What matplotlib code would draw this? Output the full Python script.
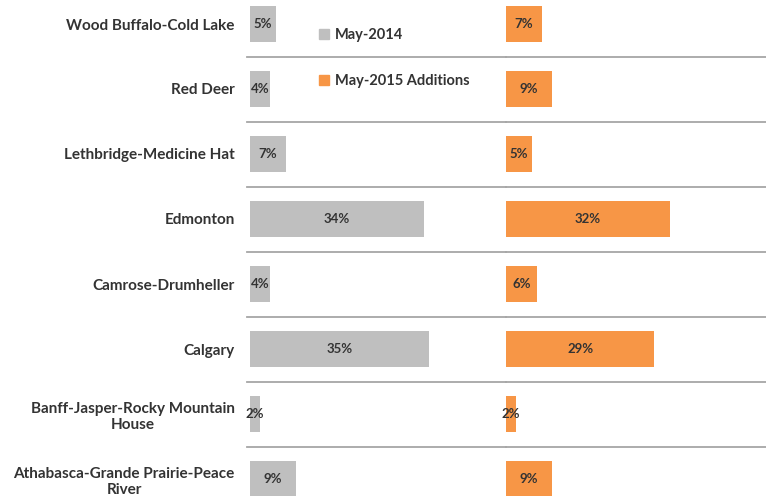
import matplotlib.pyplot as plt
from matplotlib.patches import Patch

regions = ['Wood Buffalo-Cold Lake', 'Red Deer', 'Lethbridge-Medicine Hat', 'Edmonton',
           'Camrose-Drumheller', 'Calgary', 'Banff-Jasper-Rocky Mountain\nHouse',
           'Athabasca-Grande Prairie-Peace\nRiver']
may_2014 = [5, 4, 7, 34, 4, 35, 2, 9]
may_2015_add = [7, 9, 5, 32, 6, 29, 2, 9]

gray = '#bfbfbf'
orange = '#f79646'
txt = '#333333'

plt.rcParams['font.family'] = ['Lato', 'DejaVu Sans']

fig = plt.figure(figsize=(7.66, 4.96), dpi=100)
W, H = 766, 496
bot = -15.5 / H
hgt = 520 / H
ax1 = fig.add_axes([250 / W, bot, 256 / W, hgt])
ax2 = fig.add_axes([506 / W, bot, 260 / W, hgt])

y = list(range(len(regions)))
for ax, vals, col, xmax in [(ax1, may_2014, gray, 256 / 5.12), (ax2, may_2015_add, orange, 260 / 5.12)]:
    ax.barh(y, vals, height=0.56, color=col, edgecolor='none')
    for yi, v in zip(y, vals):
        ax.text(v / 2, yi, f'{v}%', ha='center', va='center', fontsize=9.5,
                fontweight='bold', color=txt)
    for k in range(len(regions) - 1):
        ax.axhline(k + 0.5, color='#a6a6a6', lw=1.3, xmin=-0.01 if ax is ax1 else 0, clip_on=False)
    ax.set_xlim(0, xmax)
    ax.set_ylim(len(regions) - 0.5, -0.5)
    ax.set_xticks([])
    for s in ax.spines.values():
        s.set_visible(False)
    ax.patch.set_alpha(0)

ax1.set_yticks(y)
ax1.set_yticklabels(regions, fontsize=11, fontweight='bold', color=txt, multialignment='center')
ax1.tick_params(axis='y', length=0, pad=11)
ax2.set_yticks([])

handles = [Patch(color=gray, label='May-2014'), Patch(color=orange, label='May-2015 Additions')]
leg = fig.legend(handles=handles, loc='upper left', bbox_to_anchor=(306 / W, 1 - 15 / H),
                 frameon=False, labelspacing=2.2, handlelength=0.7, handleheight=0.7,
                 handletextpad=0.4, prop={'size': 10.5, 'weight': 'bold'})
for t in leg.get_texts():
    t.set_color(txt)

fig.savefig('out.png', dpi=100)
